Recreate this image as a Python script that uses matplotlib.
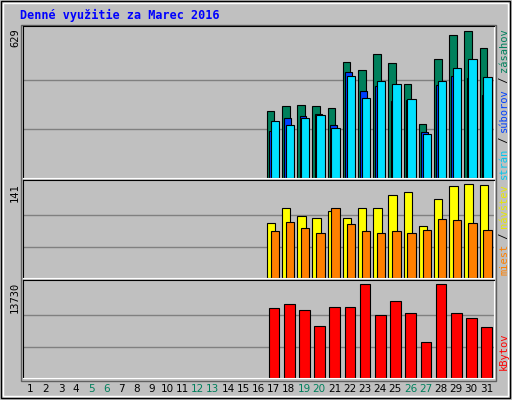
import matplotlib
matplotlib.use("Agg")
import matplotlib.pyplot as plt
import numpy as np

days = list(range(1, 32))
data_days = list(range(17, 32))
hits  = [285,307,311,307,298,495,461,529,491,401,230,508,611,628,555]
files = [200,255,264,273,225,452,371,392,329,332,196,398,435,427,354]
pages = [243,225,255,268,213,435,341,414,401,337,187,414,469,508,431]
visits = [82,105,93,90,101,90,104,104,124,128,78,118,137,141,139]
sites  = [70,84,75,68,105,81,70,67,70,67,72,88,87,82,72]
kbytes = [10260,10710,9960,7540,10410,10410,13730,9200,11160,9500,5280,13730,9500,8750,7390]
weekend = [5,6,12,13,19,20,26,27]
max_top, max_mid, max_bot = 629, 141, 13730

W, H = 512, 400
fig = plt.figure(figsize=(W/100, H/100), dpi=100)
fig.patch.set_facecolor("#C0C0C0")
bg = fig.add_axes([0, 0, 1, 1]); bg.set_axis_off()
bg.set_xlim(0, W); bg.set_ylim(H, 0)
bg.add_patch(plt.Rectangle((1, 1), W-3, H-3, fill=False, ec="black", lw=1))
bg.add_patch(plt.Rectangle((3, 3), W-7, H-7, fill=False, ec="white", lw=1))
bg.add_patch(plt.Rectangle((21, 25), 475, 356, fill=False, ec="#606060", lw=1))
fig.text(20/W, 1-15/H, "Denné využitie za Marec 2016", color="#0000FF",
         fontsize=8.5, fontweight="bold", family="DejaVu Sans Mono", va="center")

def mkax(y0, y1):
    ax = fig.add_axes([23/W, 1-y1/H, (494-23)/W, (y1-y0)/H])
    ax.set_facecolor("#C0C0C0")
    ax.set_xlim(0.5, 31.5)
    ax.set_xticks([]); ax.set_yticks([])
    for s in ax.spines.values():
        s.set_color("black")
    ax.spines["right"].set_color("white"); ax.spines["bottom"].set_color("white")
    return ax

x = np.array(data_days, dtype=float)
ax1 = mkax(26, 178)
ax1.set_ylim(0, max_top*1.03)
for f in (1/3, 2/3):
    ax1.axhline(max_top*f, color="#808080", lw=1, zorder=0)
ax1.bar(x-0.45, hits, width=0.5, align="edge", color="#00805C", ec="black", lw=0.8)
ax1.bar(x-0.3, files, width=0.45, align="edge", color="#0040FF", ec="black", lw=0.8)
ax1.bar(x-0.2, pages, width=0.55, align="edge", color="#00E0FF", ec="black", lw=0.8)

ax2 = mkax(180, 278)
ax2.set_ylim(0, max_mid*1.04)
for f in (1/3, 2/3):
    ax2.axhline(max_mid*f, color="#808080", lw=1, zorder=0)
ax2.bar(x-0.45, visits, width=0.55, align="edge", color="#FFFF00", ec="black", lw=0.8)
ax2.bar(x-0.2, sites, width=0.55, align="edge", color="#FF8000", ec="black", lw=0.8)

ax3 = mkax(280, 378)
ax3.set_ylim(0, max_bot*1.04)
for f in (1/3, 2/3):
    ax3.axhline(max_bot*f, color="#808080", lw=1, zorder=0)
ax3.bar(x-0.33, kbytes, width=0.7, align="edge", color="#FF0000", ec="black", lw=0.8)

mono = dict(family="DejaVu Sans Mono", fontsize=7.5, rotation=90, va="top", ha="center")
fig.text(15/W, 1-28/H, str(max_top), **mono)
fig.text(15/W, 1-183/H, str(max_mid), **mono)
fig.text(15/W, 1-282/H, str(max_bot), **mono)

def rlabel(y, parts):
    yy = y
    for txt, col in parts:
        t = fig.text(504/W, 1-yy/H, txt, color=col, family="DejaVu Sans Mono",
                     fontsize=7.5, rotation=90, va="top", ha="center")
        yy += len(txt)*6.0
rlabel(28, [("zásahov", "#00805C"), (" / ", "black"), ("súborov", "#0040FF"), (" / ", "black"), ("strán", "#00C8F0")])
rlabel(184, [("návštev", "#E8E800"), (" / ", "black"), ("miest", "#FF8000")])
rlabel(332, [("kBytov", "#FF0000")])

for d in days:
    px = 23 + (d-0.5)*(494-23)/31
    fig.text(px/W, 1-389/H, str(d), color="#00805C" if d in weekend else "black",
             fontsize=7.5, ha="center", va="center")

fig.savefig("out.png", dpi=100, facecolor=fig.get_facecolor())
